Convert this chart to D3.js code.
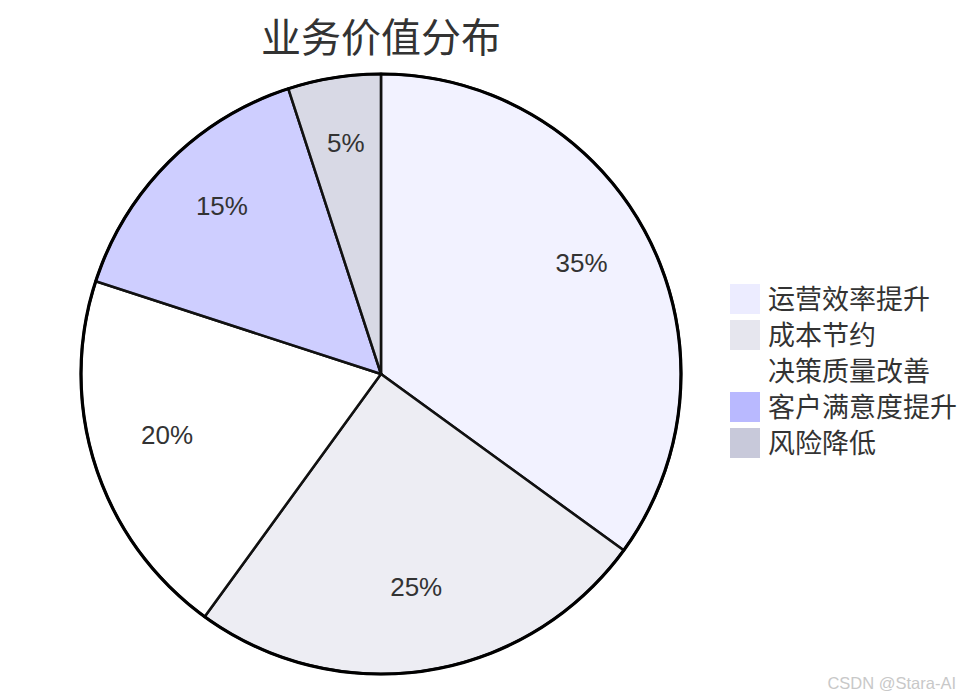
<!DOCTYPE html>
<html>
<head>
<meta charset="utf-8">
<script src="https://cdn.jsdelivr.net/npm/d3@7"></script>
<style>
  body { margin: 0; background: #fff; }
  svg { display: block; }
</style>
</head>
<body>
<div id="chart"></div>
<script>
// data
const categories = ["运营效率提升", "成本节约", "决策质量改善", "客户满意度提升", "风险降低"];
const values = [35, 25, 20, 15, 5];
const colors = ["#ececff", "#e6e6ee", "#ffffff", "#b9b9ff", "#c8c9da"];

const width = 969, height = 700;
const cx = 381, cy = 374, radius = 300;

const svg = d3.select("#chart")
    .append("svg")
        .attr("width", width)
        .attr("height", height);

// title
svg.append("text")
    .attr("x", cx)
    .attr("y", 52)
    .attr("text-anchor", "middle")
    .style("font-family", "'Noto Sans CJK SC', sans-serif")
    .style("font-size", "40px")
    .style("fill", "#333")
    .text("业务价值分布");

const color = d3.scaleOrdinal()
    .domain(categories)
    .range(colors);

const pie = d3.pie()
    .sort(null)
    .value(d => d.value);

const data = categories.map((c, i) => ({name: c, value: values[i]}));
const arcs = pie(data);

const arc = d3.arc().innerRadius(0).outerRadius(radius);
const labelArc = d3.arc().innerRadius(radius * 0.75).outerRadius(radius * 0.75);

const g = svg.append("g")
    .attr("transform", `translate(${cx}, ${cy})`);

g.selectAll("path.slice")
    .data(arcs)
    .join("path")
        .attr("class", "slice")
        .attr("d", arc)
        .attr("fill", d => color(d.data.name))
        .attr("fill-opacity", 0.7)
        .attr("stroke", "#111")
        .attr("stroke-width", 2.5);

// outer ring on top
g.append("circle")
    .attr("r", radius)
    .attr("fill", "none")
    .attr("stroke", "#000")
    .attr("stroke-width", 3.2);

const total = d3.sum(values);
g.selectAll("text.label")
    .data(arcs)
    .join("text")
        .attr("class", "label")
        .attr("transform", d => `translate(${labelArc.centroid(d)})`)
        .attr("text-anchor", "middle")
        .style("font-family", "'Liberation Sans', Arial, sans-serif")
        .style("font-size", "26px")
        .style("fill", "#333")
        .text(d => Math.round(d.data.value / total * 100) + "%");

// legend
const legend = svg.append("g")
    .attr("transform", "translate(730, 284)");

const item = legend.selectAll("g")
    .data(categories)
    .join("g")
        .attr("transform", (d, i) => `translate(0, ${i * 36})`);

item.append("rect")
    .attr("width", 30)
    .attr("height", 30)
    .attr("fill", d => color(d));

item.append("text")
    .attr("x", 38)
    .attr("y", 15)
    .attr("dy", "0.36em")
    .style("font-family", "'Noto Sans CJK SC', sans-serif")
    .style("font-size", "27px")
    .style("fill", "#333")
    .text(d => d);

// watermark
svg.append("text")
    .attr("x", 956)
    .attr("y", 689)
    .attr("text-anchor", "end")
    .style("font-family", "'Liberation Sans', Arial, sans-serif")
    .style("font-size", "16.5px")
    .style("fill", "#c8c8c8")
    .text("CSDN @Stara-AI");
</script>
</body>
</html>
